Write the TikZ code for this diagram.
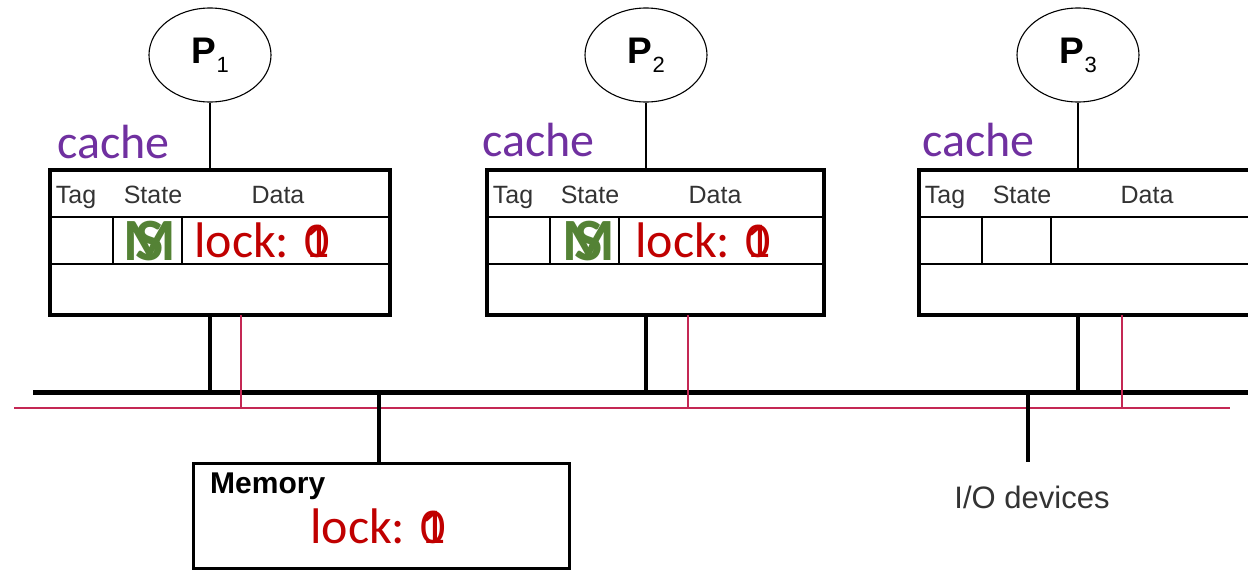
\documentclass[tikz,border=0pt]{standalone}
\usepackage{fontspec}
\setmainfont{Liberation Sans}
\newfontfamily\calfont{Carlito}
\usetikzlibrary{shapes.geometric}
\definecolor{cpurple}{HTML}{7030A0}
\definecolor{cred}{HTML}{C00000}
\definecolor{cgreen}{HTML}{548235}
\definecolor{cpink}{RGB}{196,40,84}
\definecolor{cgrey}{HTML}{333333}
\tikzset{
  proc/.style={ellipse, draw, line width=1.1pt, minimum width=122pt, minimum height=94pt, inner sep=0pt},
  cachebox/.style={draw, line width=4pt, minimum height=145pt, inner sep=0pt, anchor=north west},
  membox/.style={draw, line width=3pt, minimum width=376pt, minimum height=105pt, inner sep=0pt, anchor=north west},
  rowline/.style={line width=1.4pt},
  hdr/.style={font=\fontsize{25}{28}\selectfont, text=cgrey, inner sep=0pt, anchor=base},
  cachelbl/.style={font=\calfont\fontsize{48}{52}\selectfont, text=cpurple, inner sep=0pt, anchor=base west},
  stat/.style={font=\calfont\bfseries\fontsize{60}{64}\selectfont, text=cgreen, inner sep=0pt, anchor=base},
  lockt/.style={font=\calfont\fontsize{50}{54}\selectfont, text=cred, inner sep=0pt, anchor=west},
  bus/.style={line width=5pt},
  drop/.style={line width=4pt},
  pinkline/.style={line width=1.2pt, draw=cpink}
}
\newcommand\mkcache[4]{% name, left x, width, content
  \node[cachebox, minimum width=#3pt] (#1) at (#2,168) {};
  \begin{scope}[shift={(#2,168)}]
    \draw[rowline] (0,49) -- (#3,49);
    \draw[rowline] (0,96) -- (#3,96);
    \draw[rowline] (65,49) -- (65,96);
    \draw[rowline] (134,49) -- (134,96);
    \node[hdr] at (28,35) {Tag};
    \node[hdr] at (105,35) {State};
    \node[hdr] at (230,35) {Data};
    #4
  \end{scope}}
\newcommand\plabel[1]{{\bfseries\fontsize{37}{40}\selectfont P}\hspace{1pt}\raisebox{-9pt}{\fontsize{22}{24}\selectfont #1}}
\begin{document}
\begin{tikzpicture}[x=1pt,y=-1pt]
  \clip (0,0) rectangle (1248,570);
  \fill[white] (0,0) rectangle (1248,570);
  % processors
  \node[proc] (p1) at (210,55) {\plabel{1}};
  \node[proc] (p2) at (646,55) {\plabel{2}};
  \node[proc] (p3) at (1078,55) {\plabel{3}};
  % caches
  \mkcache{c1}{48}{340}{%
    \node[stat] at (102,92) {\makebox[0pt]{M}\makebox[0pt]{S}};
    \node[lockt] at (146,72) {lock: \makebox[0pt][l]{0}1};}
  \mkcache{c2}{485}{337}{%
    \node[stat] at (104,92) {\makebox[0pt]{M}\makebox[0pt]{S}};
    \node[lockt] at (150,72) {lock: \makebox[0pt][l]{0}1};}
  \mkcache{c3}{917}{345}{}
  \node[cachelbl] (l1) at (57,158) {cache};
  \node[cachelbl] (l2) at (482,156) {cache};
  \node[cachelbl] (l3) at (922,156) {cache};
  % processor to cache
  \draw[line width=2.5pt] (p1.south) -- (p1.south |- c1.north);
  \draw[line width=2.5pt] (p2.south) -- (p2.south |- c2.north);
  \draw[line width=2.5pt] (p3.south) -- (p3.south |- c3.north);
  % buses
  \coordinate (busL) at (33,392);
  \coordinate (busR) at (1250,392);
  \coordinate (redL) at (14,408);
  \coordinate (redR) at (1230,408);
  \draw[pinkline] (redL) -- (redR);
  \draw[bus] (busL) -- (busR);
  \draw[drop] (p1 |- c1.south) -- (p1 |- busL);
  \draw[drop] (p2 |- c2.south) -- (p2 |- busL);
  \draw[drop] (p3 |- c3.south) -- (p3 |- busL);
  \coordinate (r1) at (241,315);
  \coordinate (r2) at (688,315);
  \coordinate (r3) at (1122,315);
  \draw[pinkline] (r1) -- (r1 |- redL);
  \draw[pinkline] (r2) -- (r2 |- redL);
  \draw[pinkline] (r3) -- (r3 |- redL);
  % memory
  \node[membox] (mem) at (192,462) {};
  \coordinate (mtap) at (379,392);
  \draw[drop] (mtap) -- (mtap |- mem.north);
  \node[anchor=west, inner sep=0pt, font=\bfseries\fontsize{30}{34}\selectfont] (memt) at (210,486) {Memory};
  \node[lockt] (meml) at (310,526) {lock: \makebox[0pt][l]{0}1};
  % I/O
  \coordinate (iotap) at (1028,392);
  \coordinate (ioend) at (1028,462);
  \draw[drop] (iotap) -- (ioend);
  \node[inner sep=0pt, font=\fontsize{31}{34}\selectfont, text=cgrey] (io) at (1032,497) {I/O devices};
\end{tikzpicture}
\end{document}
